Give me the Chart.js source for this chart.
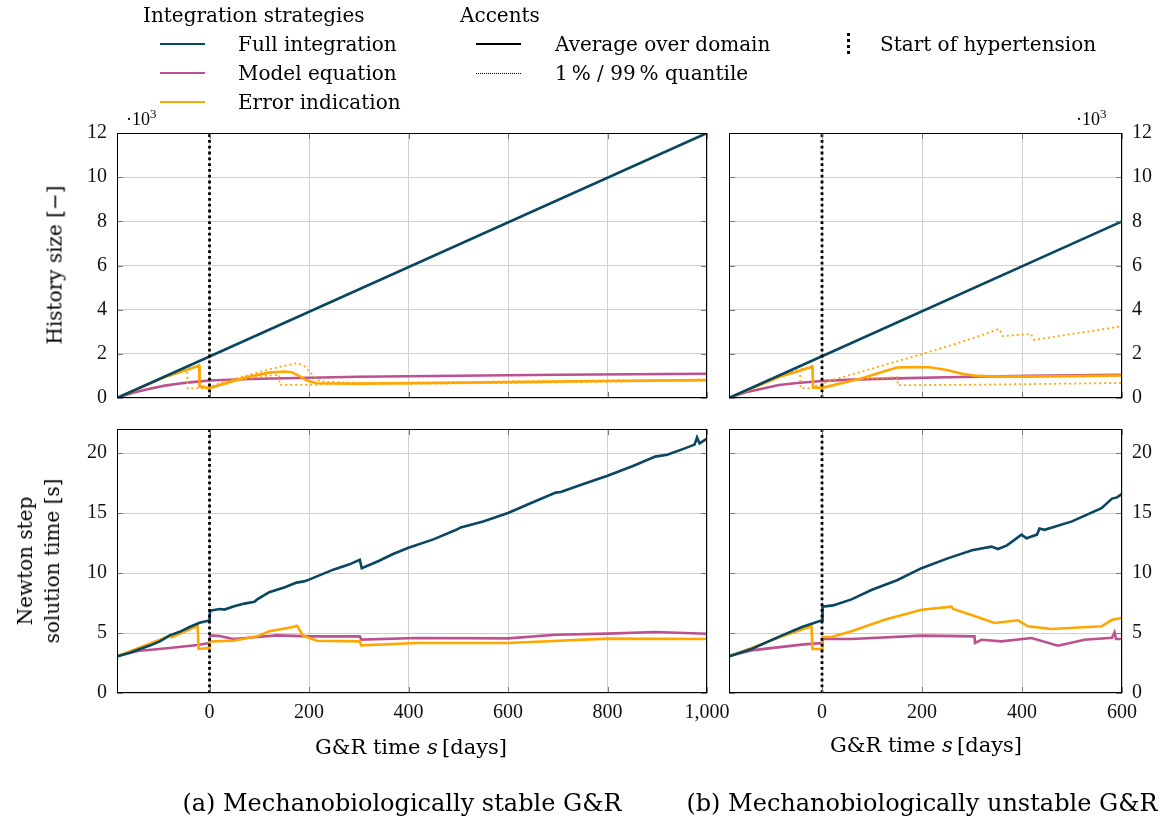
<!DOCTYPE html>
<html>
<head>
<meta charset="utf-8">
<script src="https://cdn.jsdelivr.net/npm/chart.js@4.4.1/dist/chart.umd.min.js"></script>
<style>
body { margin: 0; background: #fff; }
#wrap { position: relative; width: 1160px; height: 820px; overflow: hidden; font-family: 'DejaVu Serif', serif; color: #000; }
canvas { position: absolute; left: 0; top: 0; }
.t { position: absolute; white-space: nowrap; font-size: 20px; line-height: 20px; }
.sw { position: absolute; width: 45px; height: 0; border-top: 2.5px solid; }
.rot { position: absolute; white-space: nowrap; font-size: 20px; line-height: 27px; text-align: center; transform: translate(-50%, -50%) rotate(-90deg); }
.cap { position: absolute; white-space: nowrap; font-size: 24px; line-height: 24px; transform: translateX(-50%); }
.xt { position: absolute; white-space: nowrap; font-size: 21px; line-height: 21px; transform: translateX(-50%); }
.mul { position: absolute; white-space: nowrap; font-family: 'Liberation Serif', serif; font-size: 18px; }
.mul sup { font-size: 13px; }
</style>
</head>
<body>
<div id="wrap">
  <canvas id="histA" width="1160" height="820"></canvas>
  <canvas id="histB" width="1160" height="820"></canvas>
  <canvas id="timeA" width="1160" height="820"></canvas>
  <canvas id="timeB" width="1160" height="820"></canvas>

  <!-- legend -->
  <div class="t" style="left:143px;top:5px">Integration strategies</div>
  <div class="sw" style="left:160px;top:43px;border-color:#08475f"></div>
  <div class="t" style="left:238px;top:34px">Full integration</div>
  <div class="sw" style="left:160px;top:72px;border-color:#bc5090"></div>
  <div class="t" style="left:238px;top:63px">Model equation</div>
  <div class="sw" style="left:160px;top:101px;border-color:#ffa600"></div>
  <div class="t" style="left:238px;top:92px">Error indication</div>

  <div class="t" style="left:460px;top:5px">Accents</div>
  <div class="sw" style="left:476px;top:43px;border-color:#000"></div>
  <div class="t" style="left:555px;top:34px">Average over domain</div>
  <div class="sw" style="left:476px;top:73px;border-top:1px dotted #000"></div>
  <div class="t" style="left:555px;top:63px">1&#8201;% / 99&#8201;% quantile</div>
  <div style="position:absolute;left:847px;top:33px;height:21px;border-left:3px dotted #000"></div>
  <div class="t" style="left:880px;top:34px">Start of hypertension</div>

  <!-- axis titles -->
  <div class="mul" style="left:126px;top:106px">&#183;10<sup>3</sup></div>
  <div class="mul" style="left:1076px;top:106px">&#183;10<sup>3</sup></div>
  <div class="rot" style="left:55px;top:265px">History size [&#8722;]</div>
  <div class="rot" style="left:39px;top:561px">Newton step<br>solution time [s]</div>
  <div class="xt" style="left:411px;top:737px">G&amp;R time <i>s</i>&#8201;[days]</div>
  <div class="xt" style="left:926px;top:735px">G&amp;R time <i>s</i>&#8201;[days]</div>
  <div class="cap" style="left:402px;top:791px">(a) Mechanobiologically stable G&amp;R</div>
  <div class="cap" style="left:922px;top:791px">(b) Mechanobiologically unstable G&amp;R</div>
</div>
<script>
// axes
const xMinDays = -186
const xMaxA = 1000
const xMaxB = 600
const xTicksA = [0, 200, 400, 600, 800, 1000]
const xTicksB = [0, 200, 400, 600]
const histTicks = [0, 2, 4, 6, 8, 10, 12]
const histMax = 12
const timeTicks = [0, 5, 10, 15, 20]
const timeMax = 22
const hypertensionStart = 0

// (a) stable: history size [x10^3]
const aHistFullX = [-186, 0, 1000]
const aHistFullY = [0, 1.88, 12]
const aHistModelX = [-186, -170, -150, -120, -90, -60, -30, 0, 80, 200, 300, 500, 700, 1000]
const aHistModelY = [0, 0.12, 0.26, 0.42, 0.56, 0.66, 0.73, 0.79, 0.86, 0.92, 0.96, 1.01, 1.05, 1.1]
const aHistErrX = [-186, -90, -76, -21, -20, 0, 40, 80, 120, 150, 165, 180, 195, 215, 300, 400, 600, 800, 1000]
const aHistErrY = [0, 0.95, 1.05, 1.46, 0.52, 0.45, 0.72, 0.97, 1.15, 1.2, 1.17, 1.0, 0.8, 0.67, 0.65, 0.67, 0.72, 0.77, 0.81]
const aHistErrHiX = [-90, -76, -21, -20, 0, 40, 80, 120, 150, 176, 190, 205, 222, 300, 500, 700, 1000]
const aHistErrHiY = [0.97, 1.08, 1.5, 0.56, 0.5, 0.8, 1.05, 1.3, 1.45, 1.58, 1.45, 1.1, 0.75, 0.68, 0.72, 0.77, 0.83]
const aHistErrLoX = [-90, -76, -45, -44, 0, 60, 100, 140, 141, 210, 230, 300, 500, 1000]
const aHistErrLoY = [0.95, 1.03, 1.25, 0.44, 0.43, 0.8, 0.98, 1.05, 0.59, 0.6, 0.63, 0.63, 0.66, 0.79]

// (b) unstable: history size [x10^3]
const bHistFullX = [-186, 0, 600]
const bHistFullY = [0, 1.89, 8]
const bHistModelX = [-186, -170, -150, -120, -86, -50, 0, 60, 147, 250, 414, 600]
const bHistModelY = [0, 0.13, 0.27, 0.42, 0.59, 0.68, 0.77, 0.83, 0.89, 0.94, 1.0, 1.05]
const bHistErrX = [-186, -86, -19, -18, 0, 40, 80, 120, 150, 180, 215, 250, 280, 310, 350, 400, 500, 600]
const bHistErrY = [0, 0.95, 1.42, 0.48, 0.46, 0.68, 0.89, 1.18, 1.38, 1.4, 1.39, 1.27, 1.1, 1.0, 0.97, 0.97, 0.99, 1.02]
const bHistErrHiX = [-90, -86, -19, -18, 0, 10, 100, 150, 200, 260, 320, 354, 362, 418, 424, 500, 600]
const bHistErrHiY = [0.97, 1.0, 1.46, 0.52, 0.6, 0.74, 1.33, 1.66, 1.99, 2.4, 2.85, 3.13, 2.8, 2.9, 2.63, 2.9, 3.25]
const bHistErrLoX = [-90, -86, -44, -43, 0, 20, 80, 150, 152, 300, 450, 600]
const bHistErrLoY = [0.95, 0.98, 1.3, 0.45, 0.45, 0.55, 0.86, 0.95, 0.58, 0.6, 0.64, 0.68]

// (a) stable: Newton step solution time [s]
const aTimeFullX = [-186, -160, -144, -120, -100, -80, -60, -40, -20, 0, 1, 20, 30, 48, 70, 90, 96, 120, 150, 175, 190, 200, 250, 280, 302, 306, 340, 370, 400, 450, 496, 505, 550, 600, 650, 696, 706, 750, 800, 850, 896, 920, 950, 975, 980, 985, 1000]
const aTimeFullY = [3.05, 3.35, 3.6, 3.95, 4.3, 4.8, 5.1, 5.5, 5.85, 6.05, 6.85, 7.0, 6.95, 7.2, 7.45, 7.6, 7.8, 8.4, 8.8, 9.2, 9.3, 9.45, 10.3, 10.7, 11.1, 10.4, 11.0, 11.6, 12.1, 12.8, 13.6, 13.8, 14.3, 15.0, 15.9, 16.7, 16.75, 17.4, 18.1, 18.9, 19.7, 19.85, 20.3, 20.7, 21.3, 20.8, 21.2]
const aTimeModelX = [-186, -144, -80, -24, 0, 1, 20, 48, 96, 136, 200, 302, 305, 416, 600, 696, 800, 896, 1000]
const aTimeModelY = [3.1, 3.5, 3.75, 4.0, 4.17, 4.8, 4.75, 4.5, 4.67, 4.8, 4.72, 4.72, 4.45, 4.58, 4.55, 4.86, 4.95, 5.08, 4.94]
const aTimeErrX = [-186, -80, -76, -24, -22, 0, 1, 48, 96, 120, 168, 176, 188, 216, 302, 305, 416, 600, 800, 1000]
const aTimeErrY = [3.05, 4.75, 4.65, 5.6, 3.67, 3.75, 4.3, 4.36, 4.72, 5.14, 5.5, 5.6, 4.78, 4.36, 4.3, 3.97, 4.17, 4.17, 4.53, 4.5]

// (b) unstable: Newton step solution time [s]
const bTimeFullX = [-186, -141, -81, -40, 0, 1, 22, 59, 100, 150, 199, 250, 300, 339, 352, 370, 399, 409, 430, 435, 445, 500, 559, 580, 590, 600]
const bTimeFullY = [3.05, 3.67, 4.78, 5.5, 6.06, 7.2, 7.3, 7.8, 8.6, 9.4, 10.4, 11.2, 11.9, 12.2, 12.0, 12.3, 13.2, 12.9, 13.2, 13.7, 13.6, 14.3, 15.4, 16.2, 16.3, 16.6]
const bTimeModelX = [-186, -141, -41, 0, 1, 59, 199, 305, 306, 319, 359, 419, 472, 525, 580, 585, 588, 600]
const bTimeModelY = [3.1, 3.55, 4.03, 4.17, 4.5, 4.5, 4.78, 4.72, 4.17, 4.44, 4.3, 4.58, 3.94, 4.44, 4.6, 5.06, 4.5, 4.5]
const bTimeErrX = [-186, -81, -21, -19, 0, 1, 19, 59, 125, 199, 259, 262, 299, 345, 392, 412, 459, 559, 580, 600]
const bTimeErrY = [3.05, 4.7, 5.56, 3.67, 3.67, 4.67, 4.67, 5.14, 6.1, 6.94, 7.2, 7.0, 6.5, 5.83, 6.06, 5.56, 5.33, 5.56, 6.1, 6.25]

const FULL = '#08475f', MODEL = '#bc5090', ERR = '#ffa600'
const tickFont = { family: "'Liberation Serif', serif", size: 20 }

const pts = (xs, ys) => xs.map((x, i) => ({ x, y: ys[i] }))
const line = (xs, ys, color, extra) => Object.assign({ data: pts(xs, ys), borderColor: color, borderWidth: 2.6, pointRadius: 0, fill: false, tension: 0 }, extra || {})
const dotted = (xs, ys, color) => line(xs, ys, color, { borderWidth: 1.8, borderDash: [2, 3] })
const startLine = (yMax) => line([hypertensionStart, hypertensionStart], [0, yMax], '#000', { borderWidth: 2.8, borderDash: [2.8, 3] })

// frame with inner tick marks, like pgfplots
const framePlugin = {
  id: 'frame',
  afterDatasetsDraw(chart) {
    const { ctx, chartArea: a, scales } = chart
    ctx.save()
    ctx.strokeStyle = '#777'
    ctx.lineWidth = 1
    ctx.beginPath()
    scales.x.ticks.forEach(t => {
      const px = Math.round(scales.x.getPixelForValue(t.value)) + 0.5
      ctx.moveTo(px, a.top); ctx.lineTo(px, a.top + 6)
      ctx.moveTo(px, a.bottom); ctx.lineTo(px, a.bottom - 6)
    })
    scales.y.ticks.forEach(t => {
      const py = Math.round(scales.y.getPixelForValue(t.value)) + 0.5
      ctx.moveTo(a.left, py); ctx.lineTo(a.left + 6, py)
      ctx.moveTo(a.right, py); ctx.lineTo(a.right - 6, py)
    })
    ctx.stroke()
    ctx.strokeStyle = '#000'
    ctx.strokeRect(a.left + 0.5, a.top + 0.5, a.width - 1, a.height - 1)
    ctx.restore()
  }
}

function panel(id, o) {
  new Chart(document.getElementById(id), {
    type: 'line',
    data: { datasets: o.datasets },
    options: {
      animation: false,
      responsive: false,
      devicePixelRatio: 1,
      layout: { padding: o.pad },
      plugins: { legend: { display: false }, tooltip: { enabled: false } },
      scales: {
        x: {
          type: 'linear', min: xMinDays, max: o.xMax,
          afterBuildTicks: s => { s.ticks = o.xTicks.map(v => ({ value: v })) },
          afterFit: s => { s.height = o.xH; s.paddingLeft = 0; s.paddingRight = 0 },
          grid: { color: '#cfcfcf', drawTicks: false },
          border: { display: false },
          ticks: { display: o.xLabels, padding: 8, font: tickFont, color: '#111', maxRotation: 0, autoSkip: false, callback: v => v.toLocaleString('en-US') }
        },
        y: {
          type: 'linear', position: o.yPos, min: 0, max: o.yMax,
          afterBuildTicks: s => { s.ticks = o.yTicks.map(v => ({ value: v })) },
          afterFit: s => { s.width = o.yW; s.paddingTop = 0; s.paddingBottom = 0 },
          grid: { color: '#cfcfcf', drawTicks: false },
          border: { display: false },
          ticks: { padding: 10, font: tickFont, color: '#111', autoSkip: false, callback: v => String(v) }
        }
      }
    },
    plugins: [framePlugin]
  })
}

panel('histA', {
  pad: { left: 57, top: 133, right: 453, bottom: 412 }, xMax: xMaxA, xTicks: xTicksA, xLabels: false, xH: 10,
  yPos: 'left', yMax: histMax, yTicks: histTicks, yW: 60,
  datasets: [
    startLine(histMax),
    line(aHistFullX, aHistFullY, FULL),
    line(aHistErrX, aHistErrY, ERR),
    dotted(aHistErrHiX, aHistErrHiY, ERR),
    dotted(aHistErrLoX, aHistErrLoY, ERR),
    line(aHistModelX, aHistModelY, MODEL)
  ]
})

panel('histB', {
  pad: { left: 729, top: 133, right: 0, bottom: 412 }, xMax: xMaxB, xTicks: xTicksB, xLabels: false, xH: 10,
  yPos: 'right', yMax: histMax, yTicks: histTicks, yW: 38,
  datasets: [
    startLine(histMax),
    line(bHistFullX, bHistFullY, FULL),
    line(bHistErrX, bHistErrY, ERR),
    dotted(bHistErrHiX, bHistErrHiY, ERR),
    dotted(bHistErrLoX, bHistErrLoY, ERR),
    line(bHistModelX, bHistModelY, MODEL)
  ]
})

panel('timeA', {
  pad: { left: 57, top: 429, right: 453, bottom: 87 }, xMax: xMaxA, xTicks: xTicksA, xLabels: true, xH: 40,
  yPos: 'left', yMax: timeMax, yTicks: timeTicks, yW: 60,
  datasets: [
    startLine(timeMax),
    line(aTimeFullX, aTimeFullY, FULL),
    line(aTimeErrX, aTimeErrY, ERR),
    line(aTimeModelX, aTimeModelY, MODEL)
  ]
})

panel('timeB', {
  pad: { left: 729, top: 429, right: 0, bottom: 87 }, xMax: xMaxB, xTicks: xTicksB, xLabels: true, xH: 40,
  yPos: 'right', yMax: timeMax, yTicks: timeTicks, yW: 38,
  datasets: [
    startLine(timeMax),
    line(bTimeFullX, bTimeFullY, FULL),
    line(bTimeErrX, bTimeErrY, ERR),
    line(bTimeModelX, bTimeModelY, MODEL)
  ]
})
</script>
</body>
</html>
